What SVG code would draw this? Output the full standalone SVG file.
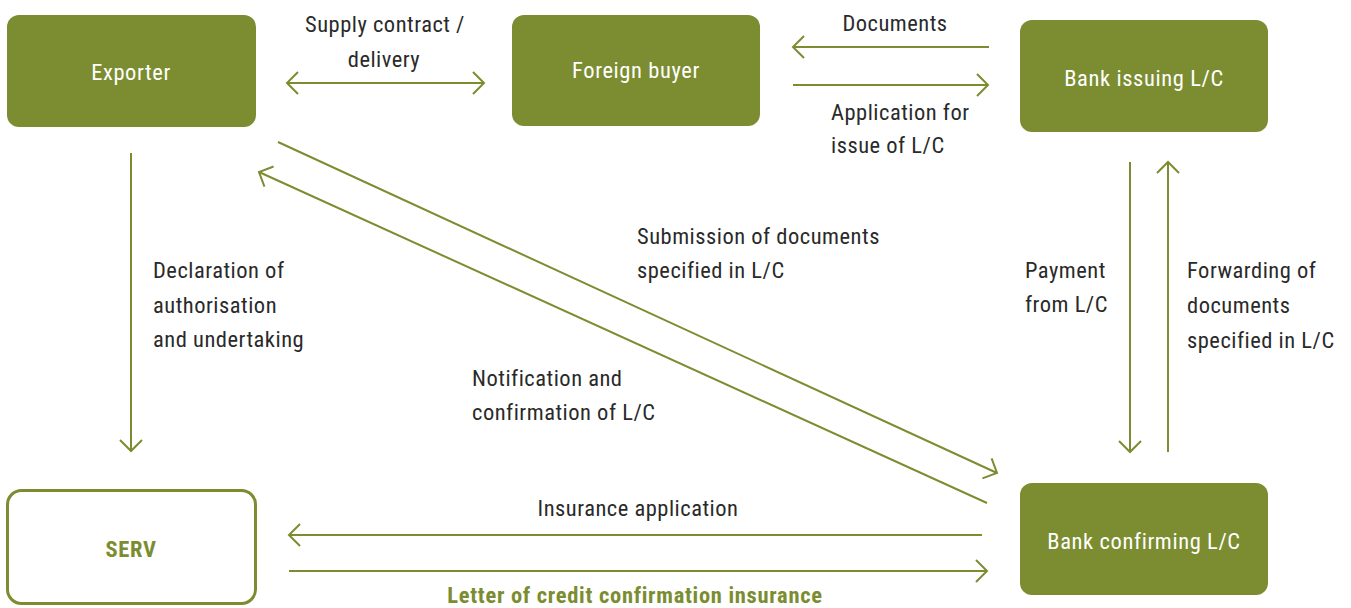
<svg xmlns="http://www.w3.org/2000/svg" width="1351" height="608" viewBox="0 0 1351 608">
<style>
.box{fill:#7b8d30}
.sbox{fill:#fff;stroke:#7b8d30;stroke-width:3}
.bt{font-family:"Liberation Sans Narrow","Roboto Condensed","Liberation Sans",sans-serif;font-size:22.5px;letter-spacing:0.6px;fill:#fff;text-anchor:middle}
.t{font-family:"Liberation Sans Narrow","Roboto Condensed","Liberation Sans",sans-serif;font-size:22.5px;letter-spacing:0.5px;fill:#2a2a2a}
.g{font-family:"Liberation Sans Narrow","Roboto Condensed","Liberation Sans",sans-serif;font-size:22.5px;letter-spacing:0.7px;fill:#7b8d30;font-weight:bold;text-anchor:middle}
.c{text-anchor:middle}
.ln{stroke:#7b8d30;stroke-width:2;fill:none}
</style>
<defs>
<marker id="ah" markerUnits="userSpaceOnUse" viewBox="-12 -12 14 24" refX="0" refY="0" markerWidth="14" markerHeight="24" orient="auto-start-reverse">
<path d="M-11,-11 L0,0 L-11,11" fill="none" stroke="#7b8d30" stroke-width="2"/>
</marker>
</defs>
<g id="exporter"><rect class="box" x="7" y="15" width="249" height="112" rx="12"/><text class="bt" x="131" y="80">Exporter</text></g>
<g id="buyer"><rect class="box" x="512" y="15" width="248" height="111" rx="12"/><text class="bt" x="636" y="78">Foreign buyer</text></g>
<g id="issuing"><rect class="box" x="1020" y="20" width="248" height="112" rx="12"/><text class="bt" x="1144" y="86">Bank issuing L/C</text></g>
<g id="serv"><rect class="sbox" x="7.5" y="490.5" width="248" height="113" rx="14"/><text class="g" x="131" y="557">SERV</text></g>
<g id="confirming"><rect class="box" x="1020" y="483" width="248" height="112" rx="12"/><text class="bt" x="1144" y="549">Bank confirming L/C</text></g>
<g id="connectors">
<line class="ln" x1="287" y1="83" x2="484" y2="83" marker-start="url(#ah)" marker-end="url(#ah)"/>
<line class="ln" x1="989" y1="47" x2="793" y2="47" marker-end="url(#ah)"/>
<line class="ln" x1="793" y1="85" x2="988" y2="85" marker-end="url(#ah)"/>
<line class="ln" x1="131" y1="153" x2="131" y2="451" marker-end="url(#ah)"/>
<line class="ln" x1="1130" y1="162" x2="1130" y2="452" marker-end="url(#ah)"/>
<line class="ln" x1="1168" y1="452" x2="1168" y2="162" marker-end="url(#ah)"/>
<line class="ln" x1="278" y1="142" x2="997" y2="473" marker-end="url(#ah)"/>
<line class="ln" x1="987" y1="503" x2="259" y2="172" marker-end="url(#ah)"/>
<line class="ln" x1="982" y1="535" x2="289" y2="535" marker-end="url(#ah)"/>
<line class="ln" x1="289" y1="571" x2="987" y2="571" marker-end="url(#ah)"/>
</g>
<g id="labels">
<text class="t c" x="385" y="32">Supply contract /</text>
<text class="t c" x="384" y="67">delivery</text>
<text class="t c" x="895" y="31">Documents</text>
<text class="t" x="831" y="120">Application for</text>
<text class="t" x="831" y="153">issue of L/C</text>
<text class="t" x="153" y="278">Declaration of</text>
<text class="t" x="153" y="313">authorisation</text>
<text class="t" x="153" y="347">and undertaking</text>
<text class="t" x="637" y="244">Submission of documents</text>
<text class="t" x="637" y="278">specified in L/C</text>
<text class="t" x="472" y="386">Notification and</text>
<text class="t" x="472" y="420">confirmation of L/C</text>
<text class="t" x="1025" y="278">Payment</text>
<text class="t" x="1025" y="312">from L/C</text>
<text class="t" x="1187" y="278">Forwarding of</text>
<text class="t" x="1187" y="313">documents</text>
<text class="t" x="1187" y="348">specified in L/C</text>
<text class="t c" x="638" y="516">Insurance application</text>
<text class="g" x="635" y="603">Letter of credit confirmation insurance</text>
</g>
</svg>
